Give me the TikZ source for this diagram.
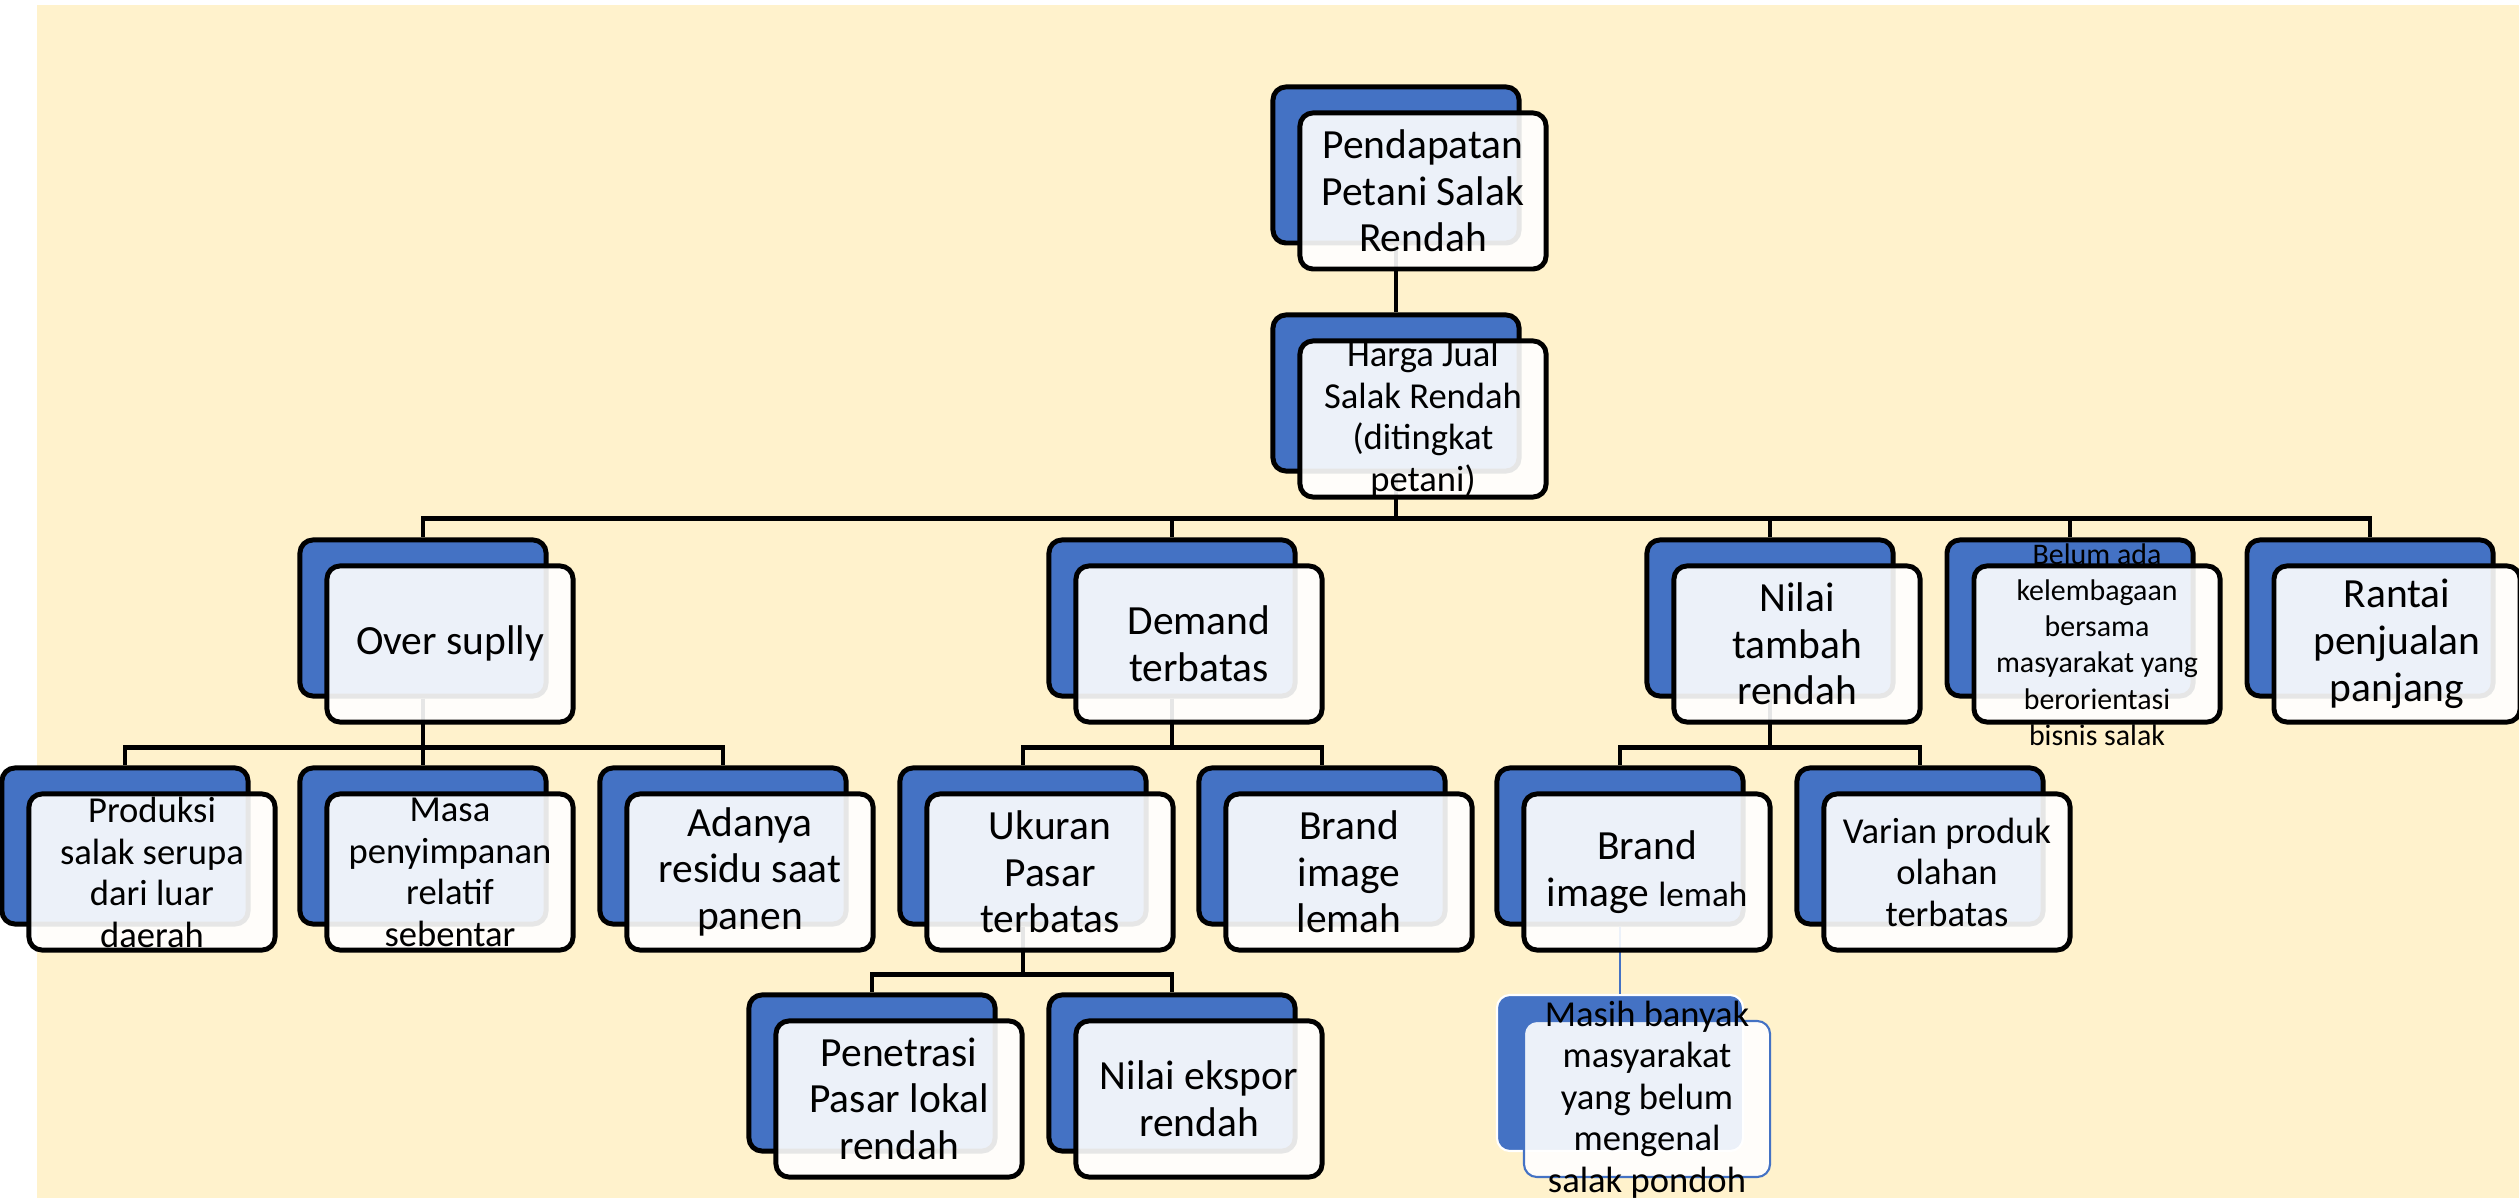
\documentclass[tikz,border=0pt]{standalone}
\usepackage{fontspec}
\setmainfont{Carlito}
\definecolor{bgyellow}{HTML}{FFF2CC}
\definecolor{boxblue}{HTML}{4472C4}
\tikzset{
  backbox/.style={draw=black, line width=1.4pt, fill=boxblue, rounded corners=0.13cm,
    minimum width=2.46cm, minimum height=1.56cm, inner sep=0pt},
  frontbox/.style={backbox, fill=white, fill opacity=0.9, text opacity=1},
  link/.style={line width=1.3pt},
  txtbig/.style={font=\fontsize{11.8}{13.3}\selectfont},
  txtmid/.style={font=\fontsize{10.4}{11.8}\selectfont},
  txtsmall/.style={font=\fontsize{8.5}{10.3}\selectfont},
}
% text that may spill over the box edge
\newcommand{\boxtext}[1]{\smash{\raisebox{-0.25em}{\parbox[c]{2.46cm}{\centering #1}}}}

\begin{document}
\begin{tikzpicture}[x=0.01cm, y=-0.01cm]
  \useasboundingbox (0,0) rectangle (2519,1198);
  \fill[bgyellow] (37,5) rectangle (2519,1198);

  % back boxes
  \node[backbox] (pendB) at (1396,165) {};
  \node[backbox] (hargaB) at (1396,393) {};
  \node[backbox] (overB) at (423,618) {};
  \node[backbox] (demandB) at (1172,618) {};
  \node[backbox] (nilaiB) at (1770,618) {};
  \node[backbox] (belumB) at (2070,618) {};
  \node[backbox] (rantaiB) at (2370,618) {};
  \node[backbox] (produksiB) at (125,846) {};
  \node[backbox] (masaB) at (423,846) {};
  \node[backbox] (adanyaB) at (723,846) {};
  \node[backbox] (ukuranB) at (1023,846) {};
  \node[backbox] (brandDB) at (1322,846) {};
  \node[backbox] (brandNB) at (1620,846) {};
  \node[backbox] (varianB) at (1920,846) {};
  \node[backbox] (penetrasiB) at (872,1073) {};
  \node[backbox] (eksporB) at (1172,1073) {};
  \node[backbox, draw=white, line width=0.6pt] (masihB) at (1620,1073) {};

  % links
  \draw[link] (pendB.south) -- (hargaB.north);
  \foreach \c in {overB,demandB,nilaiB,belumB,rantaiB}
    \draw[link] (hargaB.south) -- ++(0,45) -| (\c.north);
  \foreach \c in {produksiB,masaB,adanyaB}
    \draw[link] (overB.south) -- ++(0,49) -| (\c.north);
  \foreach \c in {ukuranB,brandDB}
    \draw[link] (demandB.south) -- ++(0,49) -| (\c.north);
  \foreach \c in {brandNB,varianB}
    \draw[link] (nilaiB.south) -- ++(0,49) -| (\c.north);
  \foreach \c in {penetrasiB,eksporB}
    \draw[link] (ukuranB.south) -- ++(0,48) -| (\c.north);
  \draw[boxblue, line width=0.6pt] (brandNB.south) -- (masihB.north);

  % front boxes
  \node[frontbox, txtbig] (pend) at ([shift={(27,26)}]pendB.center) {\boxtext{Pendapatan\\Petani Salak\\Rendah}};
  \node[frontbox, txtmid] (harga) at ([shift={(27,26)}]hargaB.center) {\boxtext{Harga Jual\\Salak Rendah\\(ditingkat\\petani)}};
  \node[frontbox, txtbig] (over) at ([shift={(27,26)}]overB.center) {\boxtext{Over suplly}};
  \node[frontbox, txtbig] (demand) at ([shift={(27,26)}]demandB.center) {\boxtext{Demand\\terbatas}};
  \node[frontbox, txtbig] (nilai) at ([shift={(27,26)}]nilaiB.center) {\boxtext{Nilai\\tambah\\rendah}};
  \node[frontbox, txtsmall] (belum) at ([shift={(27,26)}]belumB.center) {\boxtext{Belum ada\\kelembagaan\\bersama\\masyarakat yang\\berorientasi\\bisnis salak}};
  \node[frontbox, txtbig] (rantai) at ([shift={(27,26)}]rantaiB.center) {\boxtext{Rantai\\penjualan\\panjang}};
  \node[frontbox, txtmid] (produksi) at ([shift={(27,26)}]produksiB.center) {\boxtext{Produksi\\salak serupa\\dari luar\\daerah}};
  \node[frontbox, txtmid] (masa) at ([shift={(27,26)}]masaB.center) {\boxtext{Masa\\penyimpanan\\relatif\\sebentar}};
  \node[frontbox, txtbig] (adanya) at ([shift={(27,26)}]adanyaB.center) {\boxtext{Adanya\\residu saat\\panen}};
  \node[frontbox, txtbig] (ukuran) at ([shift={(27,26)}]ukuranB.center) {\boxtext{Ukuran\\Pasar\\terbatas}};
  \node[frontbox, txtbig] (brandD) at ([shift={(27,26)}]brandDB.center) {\boxtext{Brand\\image\\lemah}};
  \node[frontbox, txtbig] (brandN) at ([shift={(27,26)}]brandNB.center) {\boxtext{Brand\\image {\fontsize{10}{12}\selectfont lemah}}};
  \node[frontbox, txtmid] (varian) at ([shift={(27,26)}]varianB.center) {\boxtext{Varian produk\\olahan\\terbatas}};
  \node[frontbox, txtbig] (penetrasi) at ([shift={(27,26)}]penetrasiB.center) {\boxtext{Penetrasi\\Pasar lokal\\rendah}};
  \node[frontbox, txtbig] (ekspor) at ([shift={(27,26)}]eksporB.center) {\boxtext{Nilai ekspor\\rendah}};
  \node[frontbox, txtmid, draw=boxblue, line width=0.6pt] (masih) at ([shift={(27,26)}]masihB.center) {\boxtext{Masih banyak\\masyarakat\\yang belum\\mengenal\\salak pondoh}};
\end{tikzpicture}
\end{document}
